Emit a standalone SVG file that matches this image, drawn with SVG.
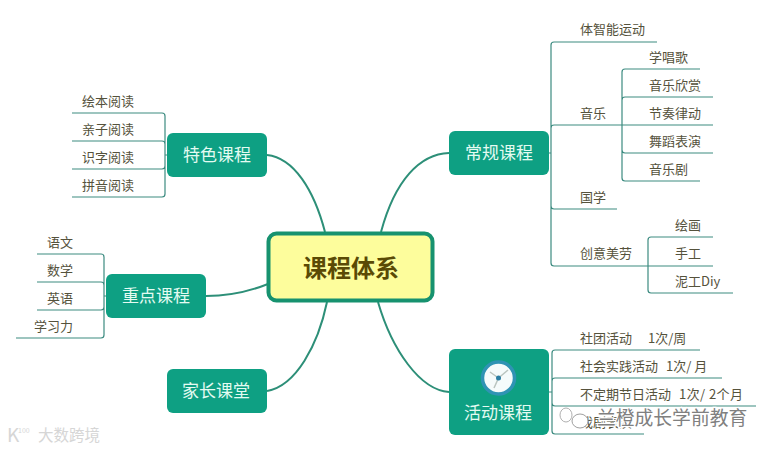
<svg xmlns="http://www.w3.org/2000/svg" width="772" height="451" viewBox="0 0 772 451">
<style>
text{font-family:"Noto Sans CJK SC","Liberation Sans",sans-serif}
.leaf{font-size:13px;fill:#55523c}
.box{fill:#0ea083}
.lab{font-size:17px;fill:#e4fbf2;text-anchor:middle}
.branch{fill:none;stroke:#2d8f78;stroke-width:2}
.tree{fill:none;stroke:#3c8b80;stroke-width:1.200}
.mark{fill:#808080;stroke:#fff;stroke-width:2.500;paint-order:stroke}
.faint{fill:#d6d6d6}
</style>
<rect width="772" height="451" fill="#fff"/>
<g id="connectors">
<path class="branch" d="M267 155C294 158 314 190 325 232"/>
<path class="branch" d="M206 296C230 296 248 292 268 284"/>
<path class="branch" d="M267 391C296 386 318 345 327 302"/>
<path class="branch" d="M449 153C420 154 395 180 381 232"/>
<path class="branch" d="M449 392C420 390 392 350 378 302"/>
<path class="tree" d="M72 113H162Q165 113 165 116V194Q165 197 162 197H72M72 141H162Q165 141 165 144M72 169H162Q165 169 165 166M165 155H167"/>
<path class="tree" d="M37 254H101Q104 254 104 257V335Q104 338 101 338H16M37 282H101Q104 282 104 285M37 310H101Q104 310 104 307M104 296H106"/>
<path class="tree" d="M657 42H554Q551 42 551 45V263Q551 266 554 266H713M713 125H554Q551 125 551 128M617 209H554Q551 209 551 206M549 153H551"/>
<path class="tree" d="M700 69H625Q622 69 622 72V178Q622 181 625 181H700M713 97H625Q622 97 622 100M713 153H625Q622 153 622 150"/>
<path class="tree" d="M713 237H651Q648 237 648 240V290Q648 293 651 293H733"/>
<path class="tree" d="M700 350H555Q552 350 552 353V431Q552 434 555 434H644M722 378H555Q552 378 552 381M756 406H555Q552 406 552 403M549 392H552"/>
</g>
<g id="leaves-tese">
<text class="leaf" x="82" y="106">绘本阅读</text>
<text class="leaf" x="82" y="134">亲子阅读</text>
<text class="leaf" x="82" y="162">识字阅读</text>
<text class="leaf" x="82" y="190">拼音阅读</text>
</g>
<g id="leaves-zhongdian">
<text class="leaf" x="47" y="247">语文</text>
<text class="leaf" x="47" y="275">数学</text>
<text class="leaf" x="47" y="303">英语</text>
<text class="leaf" x="34" y="331">学习力</text>
</g>
<g id="leaves-changgui">
<text class="leaf" x="580" y="34">体智能运动</text>
<text class="leaf" x="649" y="62">学唱歌</text>
<text class="leaf" x="649" y="90">音乐欣赏</text>
<text class="leaf" x="649" y="118">节奏律动</text>
<text class="leaf" x="580" y="118">音乐</text>
<text class="leaf" x="649" y="146">舞蹈表演</text>
<text class="leaf" x="649" y="174">音乐剧</text>
<text class="leaf" x="580" y="202">国学</text>
<text class="leaf" x="675" y="230">绘画</text>
<text class="leaf" x="675" y="258">手工</text>
<text class="leaf" x="580" y="258">创意美劳</text>
<text class="leaf" x="675" y="286">泥工Diy</text>
</g>
<g id="leaves-huodong">
<text class="leaf" x="580" y="343">社团活动<tspan x="648">1次/周</tspan></text>
<text class="leaf" x="580" y="371">社会实践活动<tspan x="666">1次/ 月</tspan></text>
<text class="leaf" x="580" y="399">不定期节日活动<tspan x="679" textLength="64">1次/ 2个月</tspan></text>
<text class="leaf" x="580" y="427">戏剧表演</text>
</g>
<g id="node-center">
<rect x="268.500" y="233.500" width="164" height="67" rx="8" fill="#fdfd9c" stroke="#17926f" stroke-width="4"/>
<text x="351" y="277" font-size="24" font-weight="700" fill="#5a4a05" text-anchor="middle">课程体系</text>
</g>
<g id="node-tese">
<rect class="box" x="167" y="133" width="100" height="44" rx="6"/>
<text class="lab" x="217" y="161">特色课程</text>
</g>
<g id="node-changgui">
<rect class="box" x="449" y="131" width="100" height="44" rx="6"/>
<text class="lab" x="499" y="159">常规课程</text>
</g>
<g id="node-zhongdian">
<rect class="box" x="106" y="274" width="100" height="44" rx="6"/>
<text class="lab" x="156" y="302">重点课程</text>
</g>
<g id="node-jiazhang">
<rect class="box" x="167" y="369" width="100" height="44" rx="6"/>
<text class="lab" x="216" y="397">家长课堂</text>
</g>
<g id="node-huodong">
<rect class="box" x="449" y="349" width="100" height="86" rx="6"/>
<circle cx="498.500" cy="378" r="16" fill="#f5fbfb" stroke="#2f93b4" stroke-width="3.500"/>
<path d="M498.500 378L490 372M498.500 378L508 370M498.500 378L494 388" stroke="#b9c4bf" stroke-width="1.500" fill="none"/>
<circle cx="498.500" cy="378" r="2.500" fill="#2b7ea3"/>
<text class="lab" x="498" y="419">活动课程</text>
</g>
<g id="watermarks">
<ellipse cx="566" cy="415" rx="6" ry="7" fill="#fff" stroke="#b0b0b0"/>
<ellipse cx="580" cy="421" rx="8" ry="7" fill="#fff" stroke="#a0a0a0"/>
<text class="mark" x="597" y="425" font-size="18.800">兰橙成长学前教育</text>
<text class="faint" x="38" y="441" font-size="15.500">大数跨境</text>
<text class="faint" x="7" y="442" font-size="19">K</text>
<text class="faint" x="18" y="433" font-size="7">100</text>
</g>
</svg>
